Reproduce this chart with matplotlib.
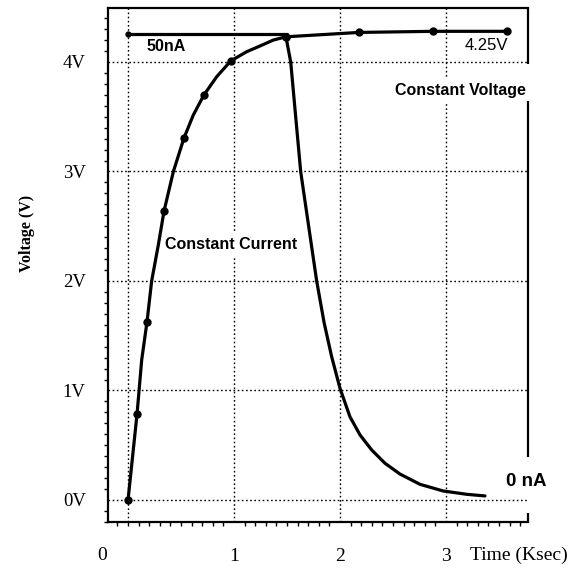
import matplotlib
matplotlib.use("Agg")
import matplotlib.pyplot as plt
from matplotlib.ticker import MultipleLocator

# ---- data ----
charge_t = [0.0, 0.085, 0.129, 0.179, 0.223, 0.286, 0.34, 0.428, 0.528, 0.616, 0.717,
            0.837, 0.97, 1.12, 1.245, 1.37, 1.49]
charge_v = [0.0, 0.785, 1.28, 1.626, 2.0, 2.33, 2.64, 3.0, 3.306, 3.516, 3.70,
            3.866, 4.01, 4.094, 4.146, 4.2, 4.23]
charge_marker_idx = [0, 1, 3, 6, 8, 10, 12, 16]

cv_t = [1.49, 2.18, 2.88, 3.58]
cv_v = [4.23, 4.27, 4.28, 4.28]

cc_t = [0.0, 1.5]
cc_v = [4.256, 4.256]

dis_t = [1.49, 1.535, 1.629, 1.733, 1.78, 1.85, 1.921, 2.0, 2.094, 2.189, 2.299,
         2.425, 2.566, 2.755, 2.975, 3.195, 3.368]
dis_v = [4.23, 4.0, 3.0, 2.31, 2.0, 1.62, 1.31, 1.02, 0.76, 0.594, 0.457,
         0.335, 0.237, 0.143, 0.082, 0.052, 0.037]

xticks = [1, 2, 3]
xtick_labels = ["1", "2", "3"]
yticks = [0, 1, 2, 3, 4]
ytick_labels = ["0V", "1V", "2V", "3V", "4V"]

W, H = 577, 569
fig = plt.figure(figsize=(W / 100, H / 100), dpi=100)
L, R, B, T = 108, 528, 522, 8
ax = fig.add_axes([L / W, 1 - B / H, (R - L) / W, (B - T) / H])

ax.set_xlim(-0.189, 3.774)
ax.set_ylim(-0.201, 4.493)

serif = "Liberation Serif"
sans = "Liberation Sans"

# grid
for xv in [0, 1, 2, 3]:
    ax.axvline(xv, color="black", lw=1.0, ls=(0, (1.2, 1.8)), zorder=1)
for yv in yticks:
    ax.axhline(yv, color="black", lw=1.0, ls=(0, (1.2, 1.8)), zorder=1)

# curves
lw = 2.3
kw = dict(color="black", lw=lw, zorder=3, solid_joinstyle="round", solid_capstyle="round")
ax.plot(cc_t, cc_v, marker="o", markersize=3.5, markevery=[0], **kw)
ax.plot(charge_t, charge_v, marker="o", markersize=5, markevery=charge_marker_idx, **kw)
ax.plot(cv_t, cv_v, marker="o", markersize=5, **kw)
ax.plot(dis_t, dis_v, **kw)

# spines
for s in ["left", "bottom", "top"]:
    ax.spines[s].set_linewidth(1.6)
ax.spines["right"].set_visible(False)
for y0, y1 in [(0.0, 0.0175), (0.126, 0.819), (0.891, 1.0)]:
    ax.plot([1, 1], [y0, y1], transform=ax.transAxes, color="black", lw=1.6,
            clip_on=False, zorder=4, solid_capstyle="butt")

# ticks
ax.set_xticks(xticks)
ax.set_xticklabels(xtick_labels, fontfamily=serif, fontsize=14)
ax.set_yticks(yticks)
ax.set_yticklabels(ytick_labels, fontfamily=serif, fontsize=13.5)
ax.xaxis.set_minor_locator(MultipleLocator(0.1))
ax.yaxis.set_minor_locator(MultipleLocator(0.1))
ax.tick_params(which="major", length=0, axis="x", pad=19)
ax.tick_params(which="major", length=0, axis="y", pad=16)
ax.tick_params(which="minor", length=3, width=1.0, direction="out")

# extra axis texts
fig.text(102 / W, 1 - 555 / H, "0", fontfamily=serif, fontsize=14, ha="center", va="center")
fig.text(519 / W, 1 - 555 / H, "Time (Ksec)", fontfamily=serif, fontsize=14, ha="center", va="center")
ax.set_ylabel("Voltage (V)", fontfamily=serif, fontsize=11.5, fontweight="bold")
ax.yaxis.set_label_coords((35 - L) / (R - L), (B - 233) / (B - T))

# annotations
ax.text(0.358, 4.14, "50nA", fontfamily=sans, fontweight="bold", fontsize=11.5,
        ha="center", va="center", zorder=2)
ax.text(3.38, 4.146, "4.25V", fontfamily=sans, fontsize=12, ha="center", va="center", zorder=2)
ax.text(3.14, 3.744, "Constant Voltage", fontfamily=sans, fontweight="bold", fontsize=11.5,
        ha="center", va="center", zorder=2,
        bbox=dict(boxstyle="square,pad=0.35", fc="white", ec="none"))
ax.text(0.97, 2.33, "Constant Current", fontfamily=sans, fontweight="bold", fontsize=11.5,
        ha="center", va="center", zorder=2,
        bbox=dict(boxstyle="square,pad=0.3", fc="white", ec="none"))
ax.text(3.76, 0.17, "0 nA", fontfamily=sans, fontweight="bold", fontsize=13.5,
        ha="center", va="center", zorder=2)

fig.savefig("out.png", dpi=100)
